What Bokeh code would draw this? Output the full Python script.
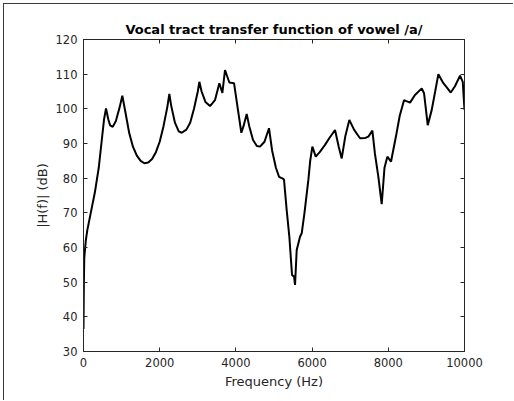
from bokeh.plotting import figure
from bokeh.models import LinearAxis, FixedTicker, Range1d
from bokeh.embed import file_html
from bokeh.resources import INLINE

freq_hz = [0, 10, 20, 60, 100, 200, 300, 350, 400, 470, 540, 591, 650, 700, 766, 850, 950, 1019,
           1100, 1200, 1300, 1400, 1500, 1597, 1700, 1800, 1900, 2000, 2100, 2200, 2253,
           2300, 2400, 2500, 2577, 2700, 2800, 2900, 3000, 3041, 3100, 3200, 3321, 3450, 3566,
           3645, 3714, 3828, 3951, 4050, 4143, 4200, 4283, 4350, 4450, 4550, 4633, 4750, 4869,
           4950, 5050, 5132, 5245, 5263, 5333, 5403, 5473, 5526, 5552, 5596, 5683, 5727, 5800,
           5902, 5950, 6007, 6095, 6200, 6339, 6450, 6602, 6700, 6777, 6870, 6977, 7100, 7258,
           7400, 7477, 7582, 7650, 7739, 7827, 7900, 7975, 8072, 8200, 8300, 8413, 8571, 8700,
           8878, 8938, 9035, 9140, 9230, 9314, 9445, 9550, 9639, 9750, 9883, 9954, 10000]
mag_db = [36.5, 50, 57, 62, 65, 70.5, 76, 79.5, 83, 90, 97, 100.1, 97, 95.2, 94.8, 96.5, 100.5, 103.8,
          99, 93, 89, 86.5, 85, 84.3, 84.5, 85.5, 87.5, 90.5, 95, 100.5, 104.3,
          101, 96, 93.5, 93.1, 94, 96, 100, 105, 107.8, 105, 102, 100.8, 102.5, 107.4,
          104.6, 111.2, 107.6, 107.4, 100, 93.1, 95, 98.5, 95, 91, 89.3, 89.1, 90.5, 94.4,
          88, 83, 80.4, 79.8, 79.5, 70.8, 63.1, 52.1, 51.6, 49.2, 59.3, 63.1, 64.1, 70,
          79.5, 85, 89.1, 86.2, 87.5, 89.6, 91.5, 93.9, 89, 85.7, 92, 96.8, 94, 91.5,
          91.6, 92, 93.7, 87, 80.4, 72.5, 83, 86.2, 84.8, 92, 98, 102.5, 101.8, 104,
          105.9, 104.5, 95.3, 99.7, 105, 110, 107.4, 106, 104.7, 106.5, 109.6, 107.8, 99.7]

x_ticks = [0, 2000, 4000, 6000, 8000, 10000]
y_ticks = [30, 40, 50, 60, 70, 80, 90, 100, 110, 120]

TXT = "#262626"
FONT = "DejaVu Sans"

p = figure(width=510, height=397, output_backend="svg", toolbar_location=None,
           x_range=Range1d(0, 10000), y_range=Range1d(30, 120),
           min_border_left=79, min_border_right=50, min_border_top=35, min_border_bottom=50,
           title="Vocal tract transfer function of vowel /a/")
p.styles = {"margin-left": "3px", "margin-top": "3px",
            "border-left": "1px solid #3a3a3a", "border-top": "1px solid #3a3a3a"}
p.title.align = "center"
p.title.text_font = FONT
p.title.text_font_size = "13px"
p.title.text_font_style = "bold"
p.title.text_color = "#000000"
p.title.standoff = 6

p.xgrid.visible = False
p.ygrid.visible = False
p.outline_line_color = TXT
p.outline_line_width = 1
p.background_fill_color = "white"
p.border_fill_color = "white"

for ax in p.xaxis:
    ax.ticker = FixedTicker(ticks=x_ticks)
    ax.axis_label = "Frequency (Hz)"
    ax.axis_label_standoff = 4
for ax in p.yaxis:
    ax.ticker = FixedTicker(ticks=y_ticks)
    ax.axis_label = "|H(f)| (dB)"
    ax.axis_label_standoff = 3

for ax in list(p.xaxis) + list(p.yaxis):
    ax.axis_line_color = TXT
    ax.major_tick_in = 4
    ax.major_tick_out = 0
    ax.minor_tick_line_color = None
    ax.major_tick_line_color = TXT
    ax.major_label_text_font = FONT
    ax.major_label_text_font_size = "11.5px"
    ax.major_label_text_color = TXT
    ax.axis_label_text_font = FONT
    ax.axis_label_text_font_size = "13px"
    ax.axis_label_text_font_style = "normal"
    ax.axis_label_text_color = TXT
    ax.major_label_standoff = 6

top = LinearAxis(ticker=FixedTicker(ticks=x_ticks), major_label_text_font_size="1px",
                 major_label_text_color=None, major_label_standoff=0,
                 major_tick_in=4, major_tick_out=0,
                 minor_tick_line_color=None, axis_line_color=TXT, major_tick_line_color=TXT)
right = LinearAxis(ticker=FixedTicker(ticks=y_ticks), major_label_text_font_size="1px",
                   major_label_text_color=None, major_label_standoff=0,
                   major_tick_in=4, major_tick_out=0,
                   minor_tick_line_color=None, axis_line_color=TXT, major_tick_line_color=TXT)
p.add_layout(top, "above")
p.add_layout(right, "right")

p.line(freq_hz, mag_db, line_color="black", line_width=2)

open("out.html", "w").write(file_html(p, INLINE))
